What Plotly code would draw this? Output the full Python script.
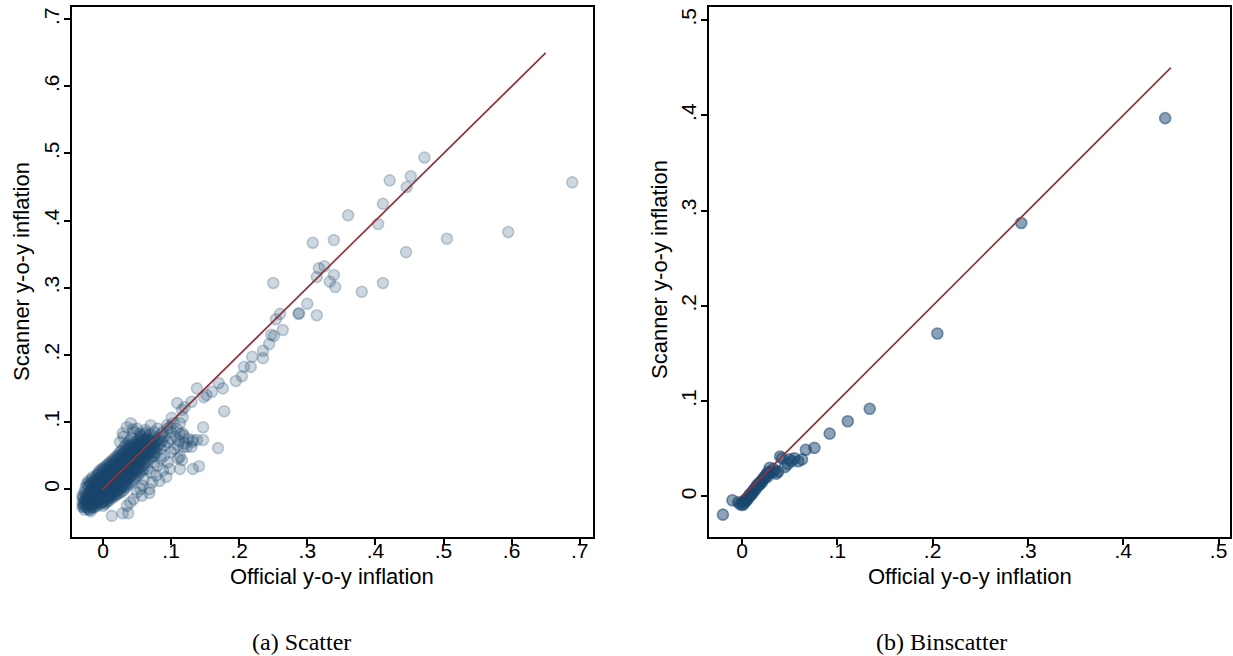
import plotly.graph_objects as go

# ---------------- data ----------------
# Left panel: official vs scanner y-o-y inflation (dense core, rows of x with y values)
core_rows = [
    (-0.030, [-0.022, -0.014, -0.027, -0.009]),
    (-0.027, [-0.018, -0.025, -0.004, -0.031]),
    (-0.024, [-0.020, -0.011, 0.008, -0.027, -0.016]),
    (-0.021, [-0.023, -0.007, 0.003, -0.030, -0.013, 0.012]),
    (-0.018, [-0.017, -0.010, -0.002, -0.026, 0.006, -0.033]),
    (-0.015, [-0.014, -0.006, 0.002, -0.022, 0.011, -0.028, 0.018]),
    (-0.012, [-0.012, -0.003, -0.019, 0.007, -0.027, 0.014]),
    (-0.009, [-0.010, -0.001, 0.004, -0.018, 0.012, -0.025, 0.021]),
    (-0.006, [-0.007, 0.001, -0.015, 0.009, -0.022, 0.017, 0.026]),
    (-0.003, [-0.004, 0.003, -0.012, 0.011, -0.020, 0.019, 0.029]),
    (0.000, [-0.002, 0.006, -0.010, 0.013, -0.018, 0.021, 0.031, -0.025]),
    (0.003, [0.001, 0.008, -0.008, 0.015, -0.015, 0.023, -0.022, 0.033]),
    (0.006, [0.003, 0.011, -0.005, 0.018, -0.012, 0.027, -0.019, 0.036]),
    (0.009, [0.006, 0.013, -0.002, 0.021, -0.010, 0.029, -0.017, 0.039]),
    (0.012, [0.008, 0.016, 0.000, 0.024, -0.007, 0.032, -0.014, 0.041]),
    (0.015, [0.011, 0.019, 0.003, 0.027, -0.005, 0.035, -0.012, 0.044]),
    (0.018, [0.013, 0.021, 0.006, 0.030, -0.003, 0.038, -0.010, 0.047]),
    (0.021, [0.016, 0.024, 0.008, 0.033, 0.000, 0.041, -0.008, 0.050]),
    (0.024, [0.018, 0.027, 0.011, 0.036, 0.002, 0.044, -0.006, 0.054]),
    (0.027, [0.021, 0.030, 0.013, 0.039, 0.005, 0.047, -0.004, 0.057]),
    (0.030, [0.024, 0.033, 0.016, 0.042, 0.008, 0.050, -0.002, 0.061]),
    (0.033, [0.027, 0.036, 0.019, 0.045, 0.011, 0.054, 0.002, 0.065]),
    (0.036, [0.030, 0.039, 0.022, 0.048, 0.014, 0.057, 0.005, 0.068]),
    (0.039, [0.033, 0.042, 0.025, 0.051, 0.017, 0.060, 0.008, 0.072]),
    (0.042, [0.036, 0.045, 0.028, 0.054, 0.020, 0.063, 0.011, 0.076]),
    (0.045, [0.039, 0.048, 0.031, 0.057, 0.023, 0.066, 0.014]),
    (0.048, [0.042, 0.051, 0.034, 0.060, 0.026, 0.069, 0.017]),
    (0.051, [0.045, 0.054, 0.037, 0.063, 0.029, 0.072, 0.020]),
    (0.054, [0.048, 0.057, 0.040, 0.066, 0.032, 0.075, 0.024]),
    (0.057, [0.050, 0.060, 0.042, 0.069, 0.034, 0.078, 0.027]),
    (0.060, [0.053, 0.063, 0.045, 0.072, 0.037, 0.081, 0.030]),
    (0.063, [0.056, 0.066, 0.048, 0.075, 0.040, 0.084]),
    (0.066, [0.059, 0.069, 0.051, 0.078, 0.043]),
    (0.069, [0.062, 0.072, 0.054, 0.081, 0.046]),
    (0.072, [0.065, 0.075, 0.057, 0.048]),
    (0.075, [0.068, 0.078, 0.060, 0.050]),
    (0.078, [0.071, 0.062, 0.054]),
    (0.081, [0.074, 0.065]),
    (0.084, [0.077, 0.068]),
    (0.087, [0.072]),
]

# Second, interleaved set of core observations
core_rows_b = [
    (-0.0285, [-0.020, -0.012, -0.026]),
    (-0.0255, [-0.016, -0.022, -0.008, 0.002]),
    (-0.0225, [-0.019, -0.010, -0.028, 0.005]),
    (-0.0195, [-0.015, -0.005, -0.024, 0.009, -0.031]),
    (-0.0165, [-0.012, -0.003, -0.020, 0.007, -0.027, 0.015]),
    (-0.0135, [-0.009, 0.000, -0.017, 0.010, -0.024]),
    (-0.0105, [-0.007, 0.002, -0.014, 0.009, -0.021, 0.017]),
    (-0.0075, [-0.005, 0.004, -0.012, 0.013, -0.019, 0.022]),
    (-0.0045, [-0.002, 0.007, -0.009, 0.015, -0.016, 0.024]),
    (-0.0015, [0.000, 0.009, -0.007, 0.017, -0.014, 0.026, -0.021]),
    (0.0015, [0.003, 0.011, -0.005, 0.019, -0.012, 0.028, -0.019]),
    (0.0045, [0.005, 0.013, -0.002, 0.021, -0.009, 0.030, -0.016]),
    (0.0075, [0.008, 0.016, 0.000, 0.024, -0.007, 0.033, -0.014]),
    (0.0105, [0.010, 0.018, 0.003, 0.027, -0.004, 0.036, -0.012]),
    (0.0135, [0.013, 0.021, 0.005, 0.030, -0.002, 0.038, -0.009]),
    (0.0165, [0.016, 0.024, 0.008, 0.032, 0.001, 0.041, -0.007]),
    (0.0195, [0.018, 0.027, 0.010, 0.035, 0.003, 0.044, -0.005]),
    (0.0225, [0.021, 0.029, 0.013, 0.038, 0.006, 0.047, -0.002]),
    (0.0255, [0.024, 0.032, 0.016, 0.041, 0.008, 0.050, 0.000]),
    (0.0285, [0.026, 0.035, 0.018, 0.044, 0.011, 0.053, 0.003]),
    (0.0315, [0.029, 0.038, 0.021, 0.047, 0.013, 0.056, 0.005]),
    (0.0345, [0.032, 0.041, 0.024, 0.050, 0.016, 0.059, 0.008]),
    (0.0375, [0.035, 0.044, 0.027, 0.053, 0.019, 0.062]),
    (0.0405, [0.038, 0.047, 0.030, 0.056, 0.022, 0.065]),
    (0.0435, [0.041, 0.050, 0.033, 0.059, 0.025, 0.068]),
    (0.0465, [0.044, 0.053, 0.036, 0.062, 0.028]),
    (0.0495, [0.047, 0.056, 0.039, 0.065, 0.031]),
    (0.0525, [0.050, 0.059, 0.042, 0.068, 0.034]),
    (0.0555, [0.053, 0.062, 0.045, 0.071]),
    (0.0585, [0.056, 0.065, 0.048, 0.074]),
    (0.0615, [0.059, 0.068, 0.051]),
    (0.0645, [0.062, 0.071, 0.054]),
    (0.0675, [0.065, 0.074, 0.057]),
    (0.0705, [0.068, 0.060]),
    (0.0735, [0.071, 0.063]),
]

# Medium-density fringe around the core
fringe_points = [
    (0.062, 0.088), (0.070, 0.095), (0.075, 0.085), (0.080, 0.090), (0.085, 0.082),
    (0.090, 0.078), (0.095, 0.090), (0.100, 0.085), (0.103, 0.098), (0.108, 0.090),
    (0.065, 0.030), (0.070, 0.025), (0.075, 0.040), (0.080, 0.035), (0.085, 0.045),
    (0.090, 0.050), (0.095, 0.040), (0.100, 0.055), (0.105, 0.060), (0.110, 0.065),
    (0.072, 0.010), (0.078, 0.020), (0.083, 0.012), (0.088, 0.028), (0.093, 0.018),
    (0.098, 0.030), (0.060, 0.015), (0.058, 0.005), (0.050, -0.005), (0.045, -0.015),
    (0.040, -0.020), (0.035, -0.025), (0.055, 0.000), (0.068, 0.000), (0.075, 0.055),
    (0.085, 0.060), (0.090, 0.065), (0.095, 0.070), (0.100, 0.075), (0.107, 0.078),
    (0.112, 0.072), (0.118, 0.080), (0.120, 0.068), (0.125, 0.075), (0.050, 0.090),
    (0.045, 0.085), (0.035, 0.092), (0.055, 0.080), (0.030, 0.078), (0.025, 0.070),
]

# Sparse points read individually
outlier_points = [
    (0.472, 0.494), (0.421, 0.460), (0.452, 0.466), (0.446, 0.450), (0.689, 0.457),
    (0.411, 0.425), (0.360, 0.408), (0.404, 0.395), (0.308, 0.367), (0.339, 0.371),
    (0.595, 0.383), (0.505, 0.373), (0.445, 0.353), (0.317, 0.329), (0.325, 0.332),
    (0.314, 0.316), (0.339, 0.319), (0.333, 0.309), (0.341, 0.301), (0.250, 0.307),
    (0.411, 0.307), (0.380, 0.294), (0.300, 0.276), (0.287, 0.261), (0.288, 0.262),
    (0.314, 0.259), (0.260, 0.261), (0.254, 0.253), (0.264, 0.237), (0.247, 0.230),
    (0.251, 0.228), (0.244, 0.216), (0.235, 0.206), (0.235, 0.195), (0.219, 0.197),
    (0.217, 0.182), (0.207, 0.182), (0.204, 0.168), (0.195, 0.161), (0.178, 0.116),
    (0.176, 0.150), (0.170, 0.158), (0.160, 0.145), (0.148, 0.137), (0.138, 0.150),
    (0.147, 0.092), (0.147, 0.073), (0.169, 0.061), (0.132, 0.073), (0.130, 0.063),
    (0.118, 0.063), (0.109, 0.128), (0.116, 0.118), (0.130, 0.130), (0.117, 0.107),
    (0.113, 0.082), (0.101, 0.106), (0.098, 0.092), (0.041, 0.098), (0.029, 0.083),
    (0.044, 0.089), (0.054, 0.083), (0.113, 0.048), (0.013, -0.040), (0.029, -0.036),
    (0.037, -0.036), (0.057, -0.010), (0.068, -0.006), (0.141, 0.034), (0.132, 0.030),
    (0.113, 0.030), (0.110, 0.046), (0.116, 0.043), (0.131, 0.070), (0.138, 0.073),
    (0.123, 0.063), (0.117, 0.083), (0.113, 0.098), (0.120, 0.122), (0.152, 0.140),
    (0.094, 0.095), (0.088, 0.085),
]

# Right panel: binscatter
bin_x = [-0.020, -0.010, -0.004, -0.002, 0.000, 0.001, 0.002, 0.003, 0.004, 0.005,
         0.006, 0.007, 0.008, 0.009, 0.010, 0.011, 0.012, 0.013, 0.014, 0.015,
         0.016, 0.017, 0.018, 0.019, 0.020, 0.021, 0.022, 0.023, 0.024, 0.025,
         0.026, 0.027, 0.028, 0.029, 0.031, 0.033, 0.034, 0.036, 0.038, 0.040,
         0.042, 0.045, 0.048, 0.050, 0.052, 0.055, 0.059, 0.063, 0.067, 0.076,
         0.092, 0.111, 0.134, 0.205, 0.293, 0.444]
bin_y = [-0.019, -0.004, -0.006, -0.008, -0.009, -0.006, -0.008, -0.004, -0.005, -0.002,
         -0.003, 0.000, 0.002, 0.001, 0.004, 0.003, 0.006, 0.008, 0.007, 0.010,
         0.012, 0.011, 0.014, 0.013, 0.016, 0.015, 0.018, 0.020, 0.019, 0.022,
         0.024, 0.021, 0.026, 0.030, 0.025, 0.029, 0.027, 0.024, 0.026, 0.042,
         0.040, 0.031, 0.034, 0.039, 0.037, 0.040, 0.037, 0.039, 0.049, 0.051,
         0.066, 0.079, 0.092, 0.171, 0.287, 0.397]

left_line = [0.0, 0.65]
right_line = [0.0, 0.45]

left_ticks = [0, 0.1, 0.2, 0.3, 0.4, 0.5, 0.6, 0.7]
left_labels = ["0", ".1", ".2", ".3", ".4", ".5", ".6", ".7"]
right_ticks = [0, 0.1, 0.2, 0.3, 0.4, 0.5]
right_labels = ["0", ".1", ".2", ".3", ".4", ".5"]

x_title = "Official y-o-y inflation"
y_title = "Scanner y-o-y inflation"
captions = ["(a) Scatter", "(b) Binscatter"]

# ---------------- build ----------------
sx, sy = [], []
for rows in (core_rows, core_rows_b):
    for xv, ys in rows:
        for yv in ys:
            sx.append(xv)
            sy.append(yv)
for xv, yv in fringe_points + outlier_points:
    sx.append(xv)
    sy.append(yv)

NAVY = "26,71,111"
RED = "#90353B"
W, H = 1233, 656
SANS = "Liberation Sans, Arial, Helvetica, sans-serif"

fig = go.Figure()
fig.add_trace(go.Scatter(
    x=sx, y=sy, mode="markers", xaxis="x", yaxis="y", showlegend=False,
    marker=dict(size=11, color=f"rgba({NAVY},0.22)",
                line=dict(color=f"rgba({NAVY},0.25)", width=1.6)),
))
fig.add_trace(go.Scatter(
    x=left_line, y=left_line, mode="lines", xaxis="x", yaxis="y", showlegend=False,
    line=dict(color=RED, width=1.7),
))
fig.add_trace(go.Scatter(
    x=bin_x, y=bin_y, mode="markers", xaxis="x2", yaxis="y2", showlegend=False,
    marker=dict(size=11, color=f"rgba({NAVY},0.5)",
                line=dict(color=f"rgba({NAVY},0.55)", width=1.6)),
))
fig.add_trace(go.Scatter(
    x=right_line, y=right_line, mode="lines", xaxis="x2", yaxis="y2", showlegend=False,
    line=dict(color=RED, width=1.7),
))

axis_common = dict(
    showgrid=False, zeroline=False, showline=True, linecolor="black", linewidth=2,
    mirror=True, ticks="outside", ticklen=6, tickwidth=1.5, tickcolor="black",
    tickfont=dict(family=SANS, size=21, color="black"),
)
ydom = [1 - 537 / H, 1 - 7 / H]

fig.update_layout(
    width=W, height=H, margin=dict(l=0, r=0, t=0, b=0),
    paper_bgcolor="white", plot_bgcolor="white",
    xaxis=dict(domain=[72 / W, 593 / W], range=[-0.0455, 0.7195],
               tickvals=left_ticks, ticktext=left_labels, anchor="y",
               ticklabelstandoff=-12, **axis_common),
    yaxis=dict(domain=ydom, range=[-0.0715, 0.7183], tickvals=left_ticks,
               ticktext=left_labels, tickangle=-90, anchor="x",
               ticklabelstandoff=-3, **axis_common),
    xaxis2=dict(domain=[709 / W, 1230 / W], range=[-0.0346, 0.512],
                tickvals=right_ticks, ticktext=right_labels, anchor="y2",
                ticklabelstandoff=-12, **axis_common),
    yaxis2=dict(domain=ydom, range=[-0.0425, 0.5136], tickvals=right_ticks,
                ticktext=right_labels, tickangle=-90, anchor="x2",
                ticklabelstandoff=-3, **axis_common),
)

sans = dict(family=SANS, size=22, color="black")
serif = dict(family="Liberation Serif, Times New Roman, serif", size=24, color="black")
ann = [
    dict(x=332 / W, y=1 - 576 / H, text=x_title, font=sans),
    dict(x=970 / W, y=1 - 576 / H, text=x_title, font=sans),
    dict(x=22 / W, y=1 - 272 / H, text=y_title, font=sans, textangle=-90),
    dict(x=659 / W, y=1 - 270 / H, text=y_title, font=sans, textangle=-90),
    dict(x=301 / W, y=1 - 642 / H, text=captions[0], font=serif),
    dict(x=941 / W, y=1 - 642 / H, text=captions[1], font=serif),
]
for a in ann:
    fig.add_annotation(xref="paper", yref="paper", xanchor="center", yanchor="middle",
                       showarrow=False, **a)

fig.write_html("out.html", config={"displayModeBar": False},
               post_script="document.body.style.margin='0';document.body.style.overflow='hidden';")
